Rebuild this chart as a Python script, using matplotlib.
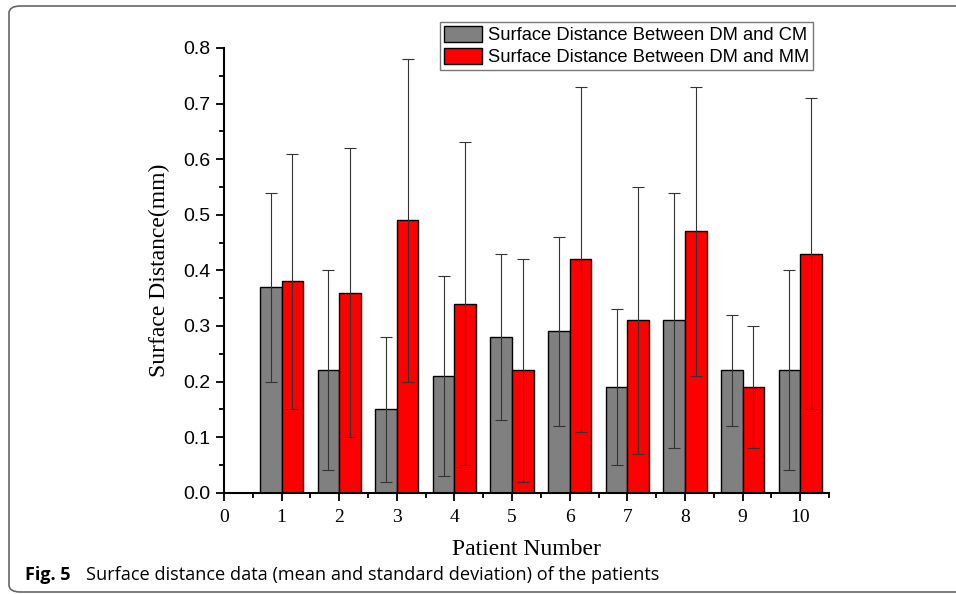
import numpy as np
import matplotlib.pyplot as plt
from matplotlib.patches import FancyBboxPatch
from matplotlib.ticker import MultipleLocator

patients = np.arange(1, 11)
cm_mean = [0.37, 0.22, 0.15, 0.21, 0.28, 0.29, 0.19, 0.31, 0.22, 0.22]
cm_sd = [0.17, 0.18, 0.13, 0.18, 0.15, 0.17, 0.14, 0.23, 0.10, 0.18]
mm_mean = [0.38, 0.36, 0.49, 0.34, 0.22, 0.42, 0.31, 0.47, 0.19, 0.43]
mm_sd = [0.23, 0.26, 0.29, 0.29, 0.20, 0.31, 0.24, 0.26, 0.11, 0.28]

fig = plt.figure(figsize=(9.56, 5.94), dpi=100)

# rounded frame around figure + caption
frame = FancyBboxPatch((9/956, 2/594), 1.2, 1 - 8/594, boxstyle="round,pad=0,rounding_size=0.012",
                       transform=fig.transFigure, fill=False, edgecolor='#666666', lw=1.2,
                       clip_on=False)
fig.patches.append(frame)

ax = fig.add_axes([224/956, 1 - 492.7/594, 605/956, 444.7/594])

w = 0.375
ekw = dict(ecolor='#333333', elinewidth=0.8, capsize=4, capthick=0.8)
ax.bar(patients - w/2, cm_mean, w, yerr=cm_sd, color='#808080', edgecolor='black', lw=1,
       error_kw=ekw, label='Surface Distance Between DM and CM')
ax.bar(patients + w/2, mm_mean, w, yerr=mm_sd, color='#ff0000', edgecolor='black', lw=1,
       error_kw=ekw, label='Surface Distance Between DM and MM')

ax.set_xlim(0, 10.5)
ax.set_ylim(0, 0.8)
ax.spines['top'].set_visible(False)
ax.spines['right'].set_visible(False)
ax.spines['left'].set_linewidth(1.5)
ax.spines['bottom'].set_linewidth(1.5)

ax.set_xticks(range(0, 11))
ax.xaxis.set_minor_locator(MultipleLocator(0.5))
ax.yaxis.set_major_locator(MultipleLocator(0.1))
ax.yaxis.set_minor_locator(MultipleLocator(0.05))
ax.tick_params(which='major', direction='out', length=6, width=1.3)
ax.tick_params(which='minor', direction='out', length=3.5, width=1.3)
ax.tick_params(axis='y', pad=4)
ax.tick_params(axis='x', pad=6)
ax.set_yticks(np.arange(0, 0.81, 0.1))
ax.set_yticklabels([f'{v:.1f}' for v in np.arange(0, 0.81, 0.1)], family='Liberation Sans', fontsize=14)
ax.set_xticklabels([str(i) for i in range(0, 11)], family='Liberation Serif', fontsize=14)

ax.set_ylabel('Surface Distance(mm)', family='Liberation Serif', fontsize=17, labelpad=9)
ax.set_xlabel('Patient Number', family='Liberation Serif', fontsize=17, labelpad=9)

leg = ax.legend(loc='upper left', bbox_to_anchor=(440/956, 1 - 22/594), bbox_transform=fig.transFigure,
                prop={'family': 'Liberation Sans', 'size': 13.2}, frameon=True, fancybox=False,
                edgecolor='#555555', handlelength=2.1, handleheight=1.0, handletextpad=0.3,
                labelspacing=0.2, borderpad=0.2, borderaxespad=0)
leg.get_frame().set_linewidth(1)

fig.text(25/956, 1 - 575/594, 'Fig. 5', family='Open Sans', fontweight='bold', fontsize=13, va='center')
fig.text(86/956, 1 - 575/594, 'Surface distance data (mean and standard deviation) of the patients',
         family='Open Sans', fontsize=13.1, va='center')

fig.savefig('out.png', dpi=100)
